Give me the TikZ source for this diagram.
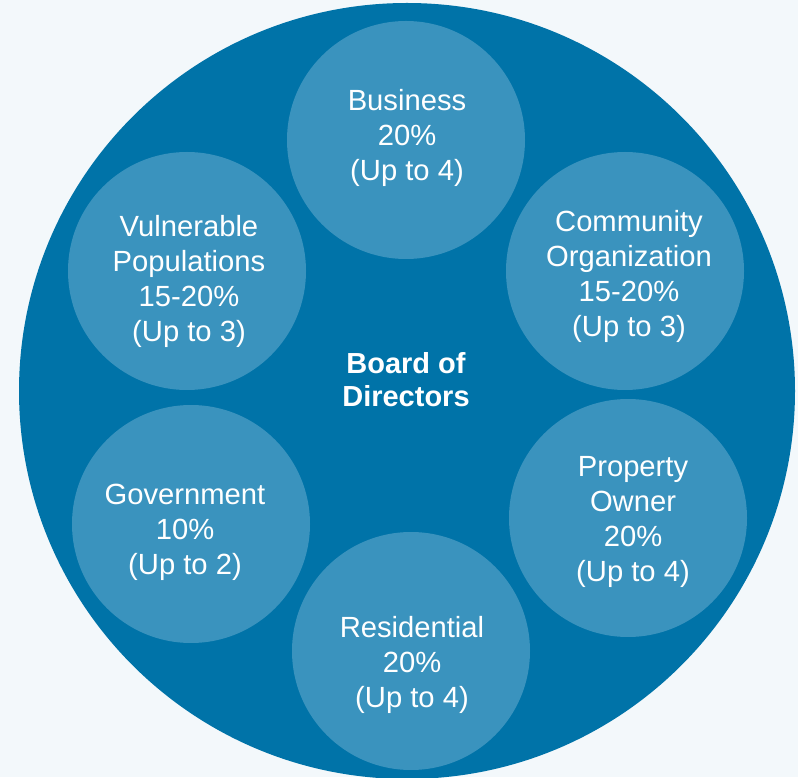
\documentclass[tikz,border=0pt]{standalone}
\usepackage{xcolor}
\usepackage{fontspec}
\setmainfont{Liberation Sans}
\usetikzlibrary{positioning}
\definecolor{pagebg}{HTML}{F3F8FB}
\definecolor{boardblue}{HTML}{0073A8}
\definecolor{seatblue}{HTML}{3A93BE}

\begin{document}
\begin{tikzpicture}[x=1pt, y=1pt,
    seat/.style={circle, fill=seatblue, minimum size=238pt, inner sep=0pt},
    seattext/.style={text=white, align=center, inner sep=0pt,
        font=\fontsize{29.2}{35}\selectfont}]
    % Page background
    \fill[pagebg] (0,0) rectangle (798,777);
    \useasboundingbox (0,0) rectangle (798,777);
    \clip (0,0) rectangle (798,777);

    % Board circle
    \node[circle, fill=boardblue, minimum size=776pt, inner sep=0pt] (board) at (407,386) {};
    \node[text=white, align=center, font=\fontsize{29}{33}\selectfont\bfseries] (boardlabel) at (406,397) {Board of\\Directors};

    % Seats
    \node[seat] (business) at (406,637) {};
    \node[seat] (community) at (625,506) {};
    \node[seat] (property) at (628,259) {};
    \node[seat] (residential) at (411,126) {};
    \node[seat] (government) at (191,253) {};
    \node[seat] (vulnerable) at (187,506) {};

    % Seat labels
    \node[seattext] (businesstext) at ([xshift=1, yshift=2]business.center) {Business\\20\%\\(Up to 4)};
    \node[seattext] (communitytext) at ([xshift=4, yshift=-5]community.center) {Community\\Organization\\15-20\%\\(Up to 3)};
    \node[seattext] (propertytext) at ([xshift=5, yshift=-4]property.center) {Property\\Owner\\20\%\\(Up to 4)};
    \node[seattext] (residentialtext) at ([xshift=1, yshift=-14]residential.center) {Residential\\20\%\\(Up to 4)};
    \node[seattext] (governmenttext) at ([xshift=-6, yshift=-8]government.center) {Government\\10\%\\(Up to 2)};
    \node[seattext] (vulnerabletext) at ([xshift=2, yshift=-10]vulnerable.center) {Vulnerable\\Populations\\15-20\%\\(Up to 3)};
\end{tikzpicture}
\end{document}
